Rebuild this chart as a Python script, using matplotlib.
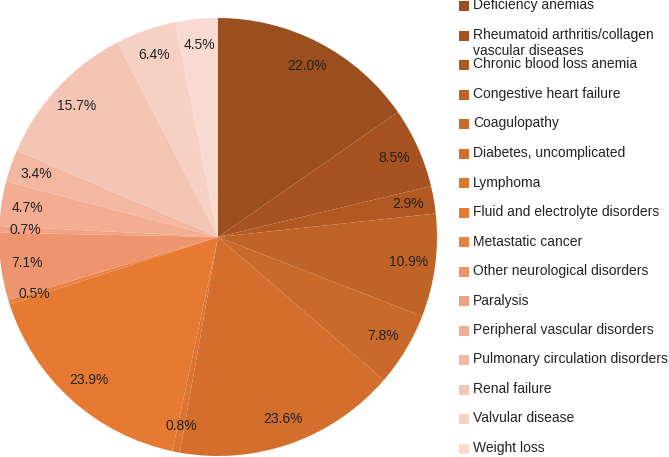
import numpy as np
import matplotlib
matplotlib.use("Agg")
import matplotlib.pyplot as plt
from matplotlib.patches import Rectangle

plt.rcParams["font.family"] = ["Liberation Sans", "DejaVu Sans"]

# comorbidity categories and their values (labels show raw values in %)
categories = [
    "Deficiency anemias",
    "Rheumatoid arthritis/collagen\nvascular diseases",
    "Chronic blood loss anemia",
    "Congestive heart failure",
    "Coagulopathy",
    "Diabetes, uncomplicated",
    "Lymphoma",
    "Fluid and electrolyte disorders",
    "Metastatic cancer",
    "Other neurological disorders",
    "Paralysis",
    "Peripheral vascular disorders",
    "Pulmonary circulation disorders",
    "Renal failure",
    "Valvular disease",
    "Weight loss",
]
values = [22.0, 8.5, 2.9, 10.9, 7.8, 23.6, 0.8, 23.9,
          0.5, 7.1, 0.7, 4.7, 3.4, 15.7, 6.4, 4.5]
colors = [
    "#9b4e1e", "#a65321", "#b25823", "#c06326", "#c9692a", "#d46e2d",
    "#dd7430", "#e67a32", "#ea8242", "#ee9570", "#f0a282", "#f2ad93",
    "#f3b7a2", "#f4c4b4", "#f6d0c3", "#f7dad1",
]

W, H = 669, 457
fig = plt.figure(figsize=(W / 100, H / 100), dpi=100)

# pie axes: centre (218, 237) px, radius 219 px
cx, cy, r = 218, 237, 219
ax = fig.add_axes([(cx - r) / W, (H - cy - r) / H, 2 * r / W, 2 * r / H])
labels_fmt = ["%.1f%%" % v for v in values]
wedges, _ = ax.pie(values, colors=colors, startangle=90, counterclock=False,
                   radius=1.0, wedgeprops=dict(linewidth=0))
for w, txt in zip(wedges, labels_fmt):
    ang = np.deg2rad((w.theta1 + w.theta2) / 2)
    ax.text(0.88 * np.cos(ang), 0.88 * np.sin(ang), txt,
            ha="center", va="center", fontsize=10, color="#222222")
ax.set_xlim(-1, 1)
ax.set_ylim(-1, 1)
ax.set_aspect("equal")
ax.axis("off")

# legend drawn in figure pixel space
y0, step = 6, 29.5
for i, (lab, col) in enumerate(zip(categories, colors)):
    yc = y0 + i * step
    fig.patches.append(Rectangle((459 / W, (H - yc - 5) / H), 10 / W, 10 / H,
                                 transform=fig.transFigure, facecolor=col,
                                 edgecolor="none"))
    fig.text(473 / W, (H - yc + 7.5) / H, lab, ha="left", va="top",
             fontsize=10, color="#222222", linespacing=1.2)

fig.savefig("out.png", dpi=100)
